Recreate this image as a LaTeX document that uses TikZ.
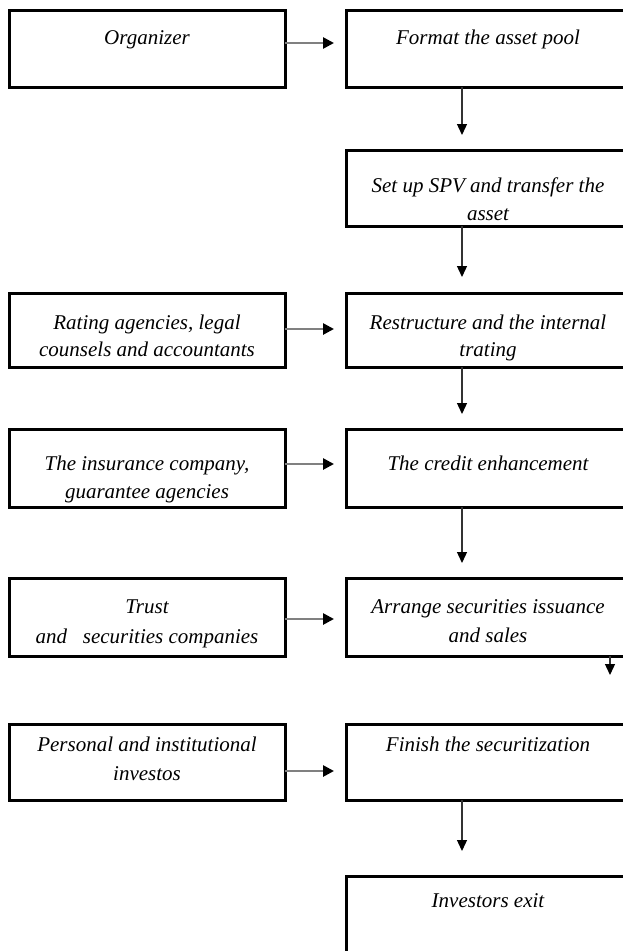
\documentclass[tikz,border=0pt]{standalone}
\usepackage{fontspec}
\setmainfont{Liberation Serif}
\usetikzlibrary{arrows.meta,calc}
\begin{document}
\begin{tikzpicture}[x=1pt,y=-1pt,
 box/.style={draw=black,line width=3pt,rectangle,inner sep=0pt,outer sep=0pt},
 lbox/.style={box,minimum width=276pt},
 rbox/.style={box,minimum width=284pt},
 txt/.style={anchor=base,inner sep=0pt,font=\fontsize{21}{25}\selectfont\itshape},
 harrow/.style={draw=black!50,line width=2.6pt,-{Triangle[length=11pt,width=11pt,color=black]}},
 varrow/.style={draw=black!80,line width=1.3pt,-{Triangle[length=11pt,width=10pt,color=black]}}]
\useasboundingbox (0,0) rectangle (623,951);
% boxes
\node[lbox,minimum height=77pt] (L1) at (147,48.5) {};
\node[rbox,minimum height=77pt] (R1) at (488,48.5) {};
\node[rbox,minimum height=76pt] (R2) at (488,188) {};
\node[lbox,minimum height=74pt] (L3) at (147,330) {};
\node[rbox,minimum height=74pt] (R3) at (488,330) {};
\node[lbox,minimum height=78pt] (L4) at (147,468) {};
\node[rbox,minimum height=78pt] (R4) at (488,468) {};
\node[lbox,minimum height=78pt] (L5) at (147,617) {};
\node[rbox,minimum height=78pt] (R5) at (488,617) {};
\node[lbox,minimum height=76pt] (L6) at (147,762) {};
\node[rbox,minimum height=76pt] (R6) at (488,762) {};
\node[rbox,minimum height=76pt] (R7) at (488,914) {};
% texts
\node[txt] (L1a) at (147,44) {Organizer};
\node[txt] (R1a) at (488,44) {Format the asset pool};
\node[txt] (R2a) at (488,192) {Set up SPV and transfer the};
\node[txt] (R2b) at (488,220) {asset};
\node[txt] (L3a) at (147,329) {Rating agencies, legal};
\node[txt] (L3b) at (147,356) {counsels and accountants};
\node[txt] (R3a) at (488,329) {Restructure and the internal};
\node[txt] (R3b) at (488,356) {trating};
\node[txt] (L4a) at (147,470) {The insurance company,};
\node[txt] (L4b) at (147,498) {guarantee agencies};
\node[txt] (R4a) at (488,470) {The credit enhancement};
\node[txt] (L5a) at (147,613) {Trust};
\node[txt] (L5b) at (147,643) {and\ \ \ securities companies};
\node[txt] (R5a) at (488,613) {Arrange securities issuance};
\node[txt] (R5b) at (488,642) {and sales};
\node[txt] (L6a) at (147,751) {Personal and institutional};
\node[txt] (L6b) at (147,780) {investos};
\node[txt] (R6a) at (488,751) {Finish the securitization};
\node[txt] (R7a) at (488,907) {Investors exit};
% horizontal arrows
\draw[harrow] ($(L1.north east)+(0,33)$) -- ($(R1.north west)+(-12,33)$);
\draw[harrow] ($(L3.north east)+(0,36)$) -- ($(R3.north west)+(-12,36)$);
\draw[harrow] ($(L4.north east)+(0,35)$) -- ($(R4.north west)+(-12,35)$);
\draw[harrow] ($(L5.north east)+(0,41)$) -- ($(R5.north west)+(-12,41)$);
\draw[harrow] ($(L6.north east)+(0,47)$) -- ($(R6.north west)+(-12,47)$);
% vertical arrows
\draw[varrow] ($(R1.south west)+(116,0)$) -- ($(R2.north west)+(116,-15)$);
\draw[varrow] ($(R2.south west)+(116,0)$) -- ($(R3.north west)+(116,-16)$);
\draw[varrow] ($(R3.south west)+(116,0)$) -- ($(R4.north west)+(116,-15)$);
\draw[varrow] ($(R4.south west)+(116,0)$) -- ($(R5.north west)+(116,-15)$);
\coordinate (stray) at ($(R5.south west)+(264,19)$);
\draw[varrow] ($(R5.south west)+(264,0)$) -- (stray);
\draw[varrow] ($(R6.south west)+(116,0)$) -- ($(R7.north west)+(116,-25)$);
\end{tikzpicture}
\end{document}
